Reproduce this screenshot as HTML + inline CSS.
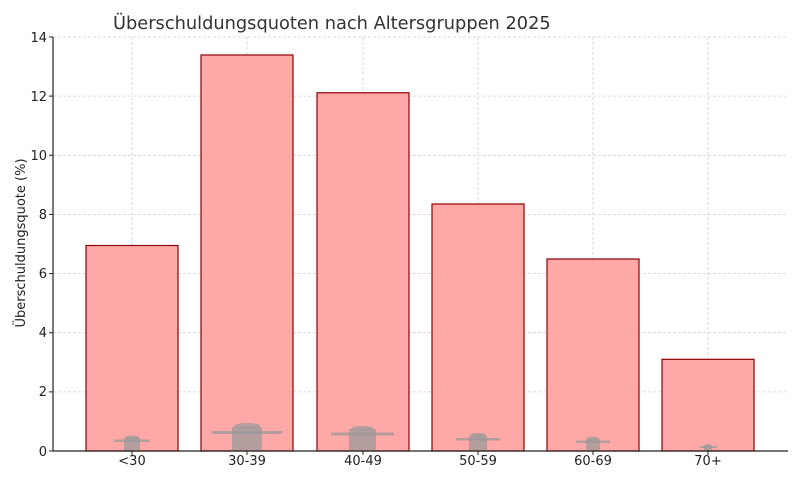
<!DOCTYPE html>
<html><head><meta charset="utf-8"><style>body{margin:0;background:#fff}svg{display:block;font-family:"DejaVu Sans","Liberation Sans",sans-serif}</style></head><body>
<svg width="800" height="480" xmlns="http://www.w3.org/2000/svg">
<rect width="800" height="480" fill="#fff"/>
<g stroke="#d0d0d0" stroke-width="0.8" stroke-dasharray="3,2">
<line x1="53" x2="788" y1="37" y2="37"/><line x1="53" x2="788" y1="96.1" y2="96.1"/><line x1="53" x2="788" y1="155.3" y2="155.3"/><line x1="53" x2="788" y1="214.4" y2="214.4"/><line x1="53" x2="788" y1="273.6" y2="273.6"/><line x1="53" x2="788" y1="332.7" y2="332.7"/><line x1="53" x2="788" y1="391.9" y2="391.9"/>
<line x1="132" x2="132" y1="37" y2="451"/><line x1="247" x2="247" y1="37" y2="451"/><line x1="363" x2="363" y1="37" y2="451"/><line x1="478" x2="478" y1="37" y2="451"/><line x1="593" x2="593" y1="37" y2="451"/><line x1="708" x2="708" y1="37" y2="451"/>
</g>
<g fill="#ff9999" fill-opacity="0.85" stroke="#8b0000" stroke-width="1.2">
<rect x="86" y="245.5" width="92" height="205.5"/>
<rect x="201" y="55" width="92" height="396"/>
<rect x="317" y="92.8" width="92" height="358.2"/>
<rect x="432" y="204" width="92" height="247"/>
<rect x="547" y="259" width="92" height="192"/>
<rect x="662" y="359.3" width="92" height="91.7"/>
</g>
<g fill="#999" fill-opacity="0.75">
<rect x="212" y="431" width="70" height="3"/><rect x="232" y="427" width="30" height="24"/><ellipse cx="247" cy="426" rx="13" ry="3"/>
<rect x="331" y="432.5" width="63" height="3"/><rect x="349" y="429" width="27" height="22"/><ellipse cx="362.5" cy="428.5" rx="11" ry="2.5"/>
<rect x="114" y="439.5" width="36" height="2.5"/><rect x="124" y="438" width="16" height="13"/><ellipse cx="132" cy="437.5" rx="7" ry="2"/>
<rect x="456" y="438" width="44" height="2.5"/><rect x="469" y="435.5" width="18" height="15.5"/><ellipse cx="478" cy="435" rx="8" ry="2"/>
<rect x="576" y="440.5" width="34" height="2.5"/><rect x="586" y="439" width="14" height="12"/><ellipse cx="593" cy="438.5" rx="6" ry="1.8"/>
<rect x="700" y="446" width="17" height="2"/><rect x="704" y="445.5" width="8" height="5.5"/><ellipse cx="708" cy="445.5" rx="3.5" ry="1.2"/>
</g>
<g stroke="#222" stroke-width="1.2">
<line x1="53" x2="53" y1="37" y2="451"/><line x1="53" x2="788" y1="451" y2="451"/>
</g>
<g stroke="#222" stroke-width="1">
<line x1="49" x2="53" y1="37" y2="37"/><line x1="49" x2="53" y1="96.1" y2="96.1"/><line x1="49" x2="53" y1="155.3" y2="155.3"/><line x1="49" x2="53" y1="214.4" y2="214.4"/><line x1="49" x2="53" y1="273.6" y2="273.6"/><line x1="49" x2="53" y1="332.7" y2="332.7"/><line x1="49" x2="53" y1="391.9" y2="391.9"/><line x1="49" x2="53" y1="451" y2="451"/>
<line x1="132" x2="132" y1="451" y2="455"/><line x1="247" x2="247" y1="451" y2="455"/><line x1="363" x2="363" y1="451" y2="455"/><line x1="478" x2="478" y1="451" y2="455"/><line x1="593" x2="593" y1="451" y2="455"/><line x1="708" x2="708" y1="451" y2="455"/>
</g>
<g font-size="13" fill="#222" text-anchor="end">
<text x="47" y="42">14</text><text x="47" y="101">12</text><text x="47" y="160">10</text><text x="47" y="219">8</text><text x="47" y="278">6</text><text x="47" y="337">4</text><text x="47" y="396">2</text><text x="47" y="456">0</text>
</g>
<g font-size="13" fill="#222" text-anchor="middle">
<text x="132" y="465">&lt;30</text><text x="247" y="465">30-39</text><text x="363" y="465">40-49</text><text x="478" y="465">50-59</text><text x="593" y="465">60-69</text><text x="708" y="465">70+</text>
</g>
<text x="25" y="243" font-size="13" fill="#222" text-anchor="middle" transform="rotate(-90 25 243)">Überschuldungsquote (%)</text>
<text x="113" y="29" font-size="17.8" fill="#333">Überschuldungsquoten nach Altersgruppen 2025</text>
</svg>
</body></html>
